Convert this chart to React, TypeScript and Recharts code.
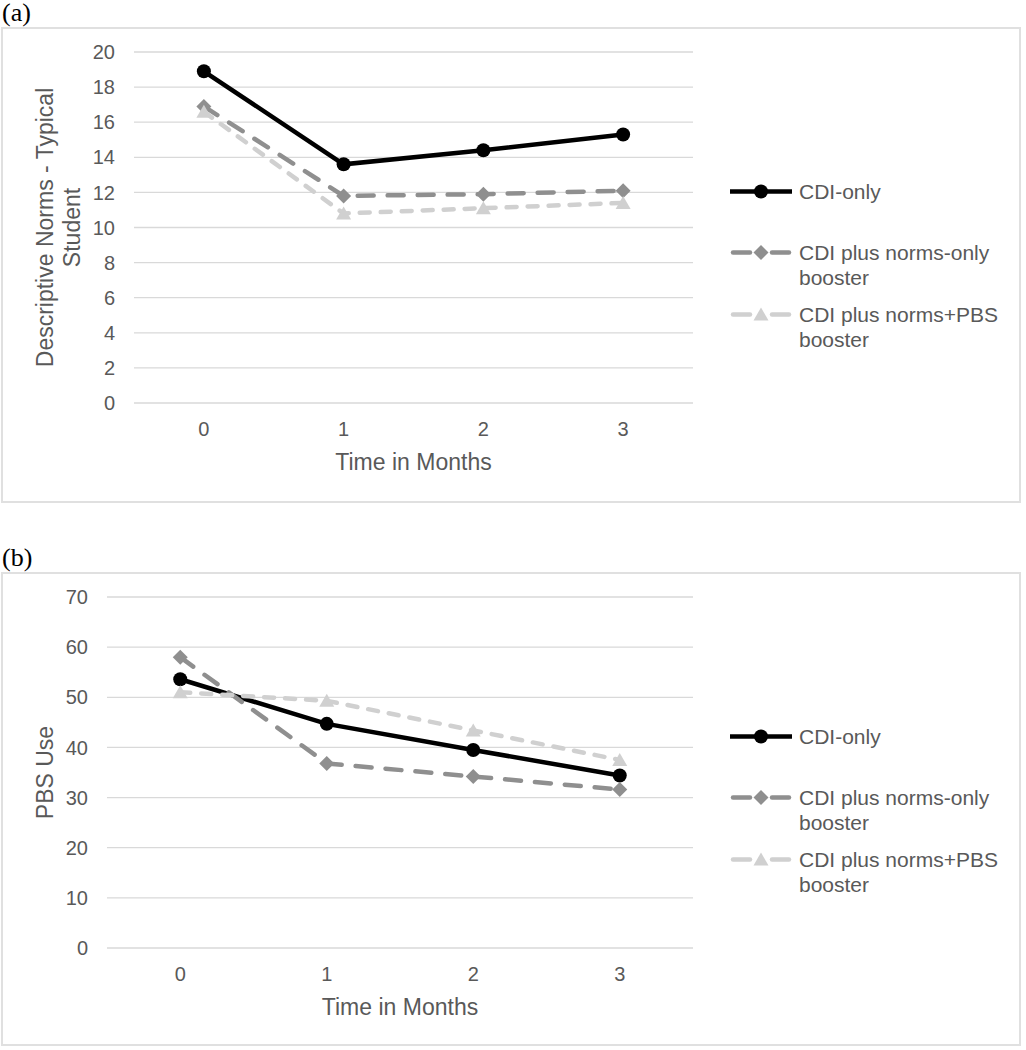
import React from 'react';
import { LineChart, Line, XAxis, YAxis, CartesianGrid, Legend } from 'recharts';

const months = ['0', '1', '2', '3'];
const seriesNames = ['CDI-only', 'CDI plus norms-only booster', 'CDI plus norms+PBS booster'];

// panel (a) descriptive norms
const normsCdiOnly = [18.9, 13.6, 14.4, 15.3];
const normsNormsOnly = [16.9, 11.8, 11.9, 12.1];
const normsNormsPbs = [16.6, 10.8, 11.1, 11.4];
const normsTicks = [0, 2, 4, 6, 8, 10, 12, 14, 16, 18, 20];

// panel (b) PBS use
const pbsCdiOnly = [53.6, 44.7, 39.5, 34.4];
const pbsNormsOnly = [58.0, 36.8, 34.2, 31.6];
const pbsNormsPbs = [51.0, 49.3, 43.4, 37.5];
const pbsTicks = [0, 10, 20, 30, 40, 50, 60, 70];

const FONT = '"Liberation Sans", Arial, sans-serif';
const TEXT = '#595959';
const GRID = '#d9d9d9';

const SERIES = [
  { key: 'cdiOnly', color: '#000000', dash: undefined, shape: 'circle' },
  { key: 'normsOnly', color: '#8f8f8f', dash: '16 14', shape: 'diamond' },
  { key: 'normsPbs', color: '#d0d0d0', dash: '10 11', shape: 'triangle' },
];

const makeRows = (a: number[], b: number[], c: number[]) =>
  months.map((m, i) => ({ month: m, cdiOnly: a[i], normsOnly: b[i], normsPbs: c[i] }));

const normsData = makeRows(normsCdiOnly, normsNormsOnly, normsNormsPbs);
const pbsData = makeRows(pbsCdiOnly, pbsNormsOnly, pbsNormsPbs);

const Marker = ({ shape, cx, cy, color }: any) => {
  if (cx == null || cy == null) return null;
  if (shape === 'circle') return <circle cx={cx} cy={cy} r={7} fill={color} />;
  if (shape === 'diamond')
    return <path d={`M${cx},${cy - 7.5}L${cx + 7.5},${cy}L${cx},${cy + 7.5}L${cx - 7.5},${cy}Z`} fill={color} />;
  return <path d={`M${cx},${cy - 7}L${cx + 7.5},${cy + 6}L${cx - 7.5},${cy + 6}Z`} fill={color} />;
};

const seriesOrder = (item: any) => SERIES.findIndex((s) => s.key === item.dataKey);

const renderLegend = (props: any) => {
  const { payload = [] } = props;
  const tops = [0, 61, 123];
  const items = [...payload].sort((a: any, b: any) => seriesOrder(a) - seriesOrder(b));
  return (
    <div style={{ position: 'relative', width: 290, height: 180, fontFamily: FONT, fontSize: 21, color: TEXT }}>
      {items.map((entry: any, i: number) => {
        const s = SERIES[seriesOrder(entry)];
        return (
          <div key={entry.value} style={{ position: 'absolute', left: 0, top: tops[i], display: 'flex' }}>
            <svg width={62} height={25} style={{ flex: 'none' }}>
              {s.dash ? (
                <g stroke={s.color} strokeWidth={4.5} strokeLinecap="round">
                  <line x1={3} y1={12.5} x2={20} y2={12.5} />
                  <line x1={42} y1={12.5} x2={59} y2={12.5} />
                </g>
              ) : (
                <line x1={0} y1={12.5} x2={62} y2={12.5} stroke={s.color} strokeWidth={4.5} />
              )}
              <Marker shape={s.shape} cx={31} cy={12.5} color={s.color} />
            </svg>
            <div style={{ marginLeft: 7, width: 210, lineHeight: '25px' }}>{entry.value}</div>
          </div>
        );
      })}
    </div>
  );
};

const YTitle = ({ viewBox, lines, baselines }: any) => {
  const cy = viewBox.y + viewBox.height / 2;
  return (
    <g>
      {lines.map((t: string, i: number) => (
        <text
          key={t}
          transform={`translate(${baselines[i]},${cy}) rotate(-90)`}
          textAnchor="middle"
          fill={TEXT}
          fontSize={23}
          fontFamily={FONT}
        >
          {t}
        </text>
      ))}
    </g>
  );
};

const Panel = ({ top, tag, data, ticks, yWidth, titleLines, titleBaselines, height }: any) => {
  const plotW = 1020 - 328 - yWidth;
  const pad = plotW / 8;
  return (
    <>
      <div style={{ position: 'absolute', left: 2, top: top - 28, fontFamily: '"Liberation Serif", "Times New Roman", serif', fontSize: 26, lineHeight: '28px', color: '#000' }}>
        {tag}
      </div>
      <div style={{ position: 'absolute', left: 1, top, width: 1020, height, boxSizing: 'border-box', border: '2px solid #e0e0e0' }} />
      <div style={{ position: 'absolute', left: 1, top }}>
        <LineChart width={1020} height={height} data={data} margin={{ top: 25, right: 328, bottom: height - 376 - 70, left: 0 }}>
          <CartesianGrid vertical={false} stroke={GRID} strokeWidth={1.3} />
          <XAxis
            dataKey="month"
            axisLine={false}
            tickLine={false}
            height={70}
            tickMargin={13}
            padding={{ left: pad, right: pad }}
            tick={{ fill: TEXT, fontSize: 20, fontFamily: FONT }}
            label={{ value: 'Time in Months', position: 'insideBottom', offset: 3, fill: TEXT, fontSize: 23, fontFamily: FONT }}
          />
          <YAxis
            type="number"
            domain={[ticks[0], ticks[ticks.length - 1]]}
            ticks={ticks}
            interval={0}
            width={yWidth}
            axisLine={false}
            tickLine={false}
            tickMargin={13}
            tick={{ fill: TEXT, fontSize: 20, fontFamily: FONT }}
            label={(p: any) => <YTitle {...p} lines={titleLines} baselines={titleBaselines} />}
          />
          <Legend
            content={renderLegend}
            itemSorter={seriesOrder}
            layout="vertical"
            align="center"
            verticalAlign="middle"
            wrapperStyle={{ left: 729, top: 152, width: 290 }}
          />
          {SERIES.map((s, i) => (
            <Line
              key={s.key}
              type="linear"
              dataKey={s.key}
              name={seriesNames[i]}
              stroke={s.color}
              strokeWidth={4.5}
              strokeDasharray={s.dash}
              strokeLinecap="round"
              dot={(p: any) => <Marker key={`${s.key}-${p.index}`} shape={s.shape} cx={p.cx} cy={p.cy} color={s.color} />}
              activeDot={false}
              isAnimationActive={false}
            />
          ))}
        </LineChart>
      </div>
    </>
  );
};

export default function App() {
  return (
    <div style={{ position: 'absolute', left: 0, top: 0, width: 1026, height: 1050, background: '#fff' }}>
      <Panel
        top={27}
        tag="(a)"
        data={normsData}
        ticks={normsTicks}
        yWidth={133}
        height={476}
        titleLines={['Descriptive Norms - Typical', 'Student']}
        titleBaselines={[52, 79]}
      />
      <Panel
        top={572}
        tag="(b)"
        data={pbsData}
        ticks={pbsTicks}
        yWidth={106}
        height={474}
        titleLines={['PBS Use']}
        titleBaselines={[52]}
      />
    </div>
  );
}
